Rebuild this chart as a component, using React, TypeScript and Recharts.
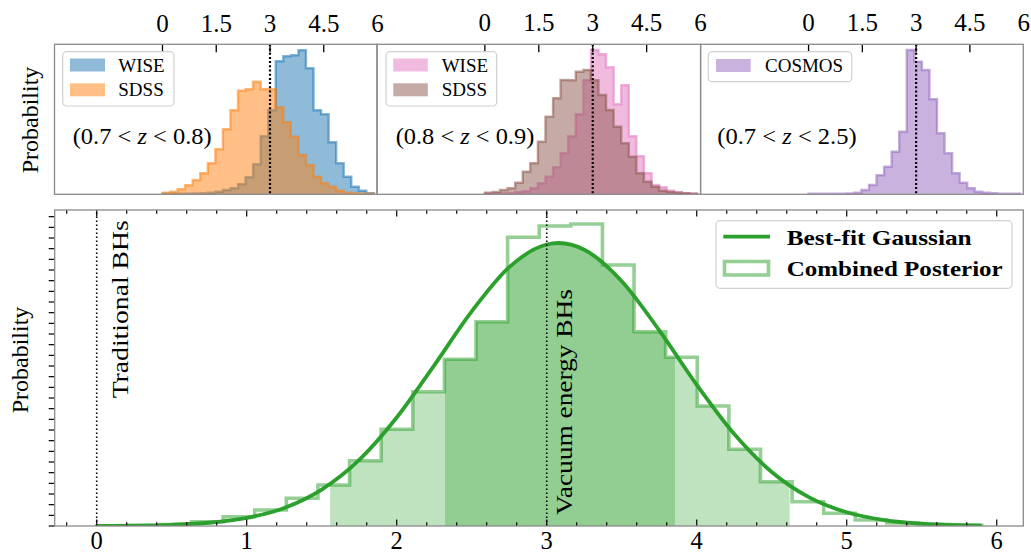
import React from 'react';
import { ComposedChart, Area, Line, XAxis, YAxis, ReferenceLine } from 'recharts';

const FONT = '"Liberation Serif", "Times New Roman", serif';

// ---------- data ----------
const BIN_EDGES = [0, 0.2107, 0.4214, 0.6321, 0.8429, 1.0536, 1.2643, 1.475, 1.6857, 1.8964, 2.1071, 2.3179, 2.5286, 2.7393, 2.95, 3.1607, 3.3714, 3.5821, 3.7929, 4.0036, 4.2143, 4.425, 4.6357, 4.8464, 5.0571, 5.2679, 5.4786, 5.6893, 5.9];

const WISE_07_08 = [0.005, 0.005, 0.005, 0.005, 0.008, 0.01, 0.016, 0.026, 0.043, 0.06, 0.10, 0.17, 0.30, 0.58, 0.84, 1.33, 1.38, 1.39, 1.44, 1.26, 0.84, 0.80, 0.52, 0.31, 0.176, 0.076, 0.035, 0.01];
const SDSS_07_08 = [0.016, 0.026, 0.05, 0.09, 0.143, 0.21, 0.31, 0.45, 0.65, 0.84, 1.036, 1.05, 1.126, 1.05, 1.05, 0.87, 0.72, 0.576, 0.393, 0.293, 0.176, 0.11, 0.076, 0.036, 0.016, 0.01, 0.007, 0.005];
const WISE_08_09 = [0.005, 0.005, 0.008, 0.01, 0.02, 0.03, 0.06, 0.11, 0.176, 0.27, 0.41, 0.58, 0.8, 1.14, 1.443, 1.40, 1.27, 0.90, 1.09, 0.58, 0.38, 0.21, 0.093, 0.07, 0.035, 0.02, 0.01, 0.005];
const SDSS_08_09 = [0.016, 0.023, 0.043, 0.06, 0.116, 0.226, 0.31, 0.526, 0.776, 0.96, 1.143, 1.14, 1.226, 1.243, 1.14, 0.993, 0.843, 0.676, 0.51, 0.376, 0.21, 0.126, 0.076, 0.036, 0.023, 0.016, 0.01, 0.005];
const COSMOS_07_25 = [0.005, 0.005, 0.005, 0.005, 0.005, 0.008, 0.016, 0.043, 0.093, 0.19, 0.276, 0.426, 0.626, 1.443, 1.326, 1.243, 0.95, 0.61, 0.41, 0.21, 0.116, 0.06, 0.026, 0.016, 0.01, 0.005, 0.005, 0.005];

const COMBINED_POSTERIOR = [0.0004, 0.0009, 0.0028, 0.0081, 0.0174, 0.0300, 0.0519, 0.0769, 0.1224, 0.1813, 0.2518, 0.3126, 0.3831, 0.5413, 0.5625, 0.5663, 0.4894, 0.3643, 0.3163, 0.2250, 0.1438, 0.0831, 0.0456, 0.0238, 0.0113, 0.0056, 0.0028, 0.0013];

const GAUSS_X = [0, 0.25, 0.5, 0.75, 1, 1.25, 1.5, 1.75, 2, 2.25, 2.5, 2.75, 3, 3.08, 3.25, 3.5, 3.75, 4, 4.25, 4.5, 4.75, 5, 5.25, 5.5, 5.75, 5.9];
const GAUSS_Y = [0.0002, 0.0007, 0.0022, 0.0061, 0.0152, 0.0338, 0.0683, 0.1239, 0.2034, 0.3013, 0.4024, 0.4853, 0.5278, 0.5306, 0.5181, 0.4590, 0.3669, 0.2648, 0.1723, 0.1013, 0.0536, 0.0257, 0.0111, 0.0043, 0.0015, 0.0008];

const SIGMA1_RANGE = [2.322, 3.855];
const SIGMA2_RANGE = [1.556, 4.619];

const TOP_TICKS = [0, 1.5, 3, 4.5, 6];
const MAIN_X_TICKS = [-0.2, 0, 0.2, 0.4, 0.6, 0.8, 1, 1.2, 1.4, 1.6, 1.8, 2, 2.2, 2.4, 2.6, 2.8, 3, 3.2, 3.4, 3.6, 3.8, 4, 4.2, 4.4, 4.6, 4.8, 5, 5.2, 5.4, 5.6, 5.8, 6];
const MAIN_Y_TICKS = [0, 0.02, 0.04, 0.06, 0.08, 0.1, 0.12, 0.14, 0.16, 0.18, 0.2, 0.22, 0.24, 0.26, 0.28, 0.3, 0.32, 0.34, 0.36, 0.38, 0.4, 0.42, 0.44, 0.46, 0.48, 0.5, 0.52, 0.54, 0.56, 0.58];
const MAIN_Y_MAX = 0.5925;
const TOP_Y_MAX = 1.5;

// ---------- helpers ----------
function histPoints(edges: number[], vals: number[]) {
  const pts: { x: number; y: number }[] = [{ x: edges[0], y: 0 }];
  vals.forEach((v, i) => pts.push({ x: edges[i], y: v }));
  pts.push({ x: edges[edges.length - 1], y: 0 });
  return pts;
}
function clipHist(edges: number[], vals: number[], lo: number, hi: number) {
  const pts: { x: number; y: number }[] = [];
  for (let i = 0; i < vals.length; i++) {
    const a = edges[i];
    const b = edges[i + 1];
    if (b <= lo || a >= hi) continue;
    pts.push({ x: Math.max(a, lo), y: vals[i] });
  }
  pts.push({ x: hi, y: 0 });
  return pts;
}
const gaussData = GAUSS_X.map((x, i) => ({ x, y: GAUSS_Y[i] }));

// ---------- ticks ----------
const TopPanelTick = (props: any) => {
  const { x, y, payload } = props;
  const v = payload.value;
  return (
    <g>
      {v < 6 && <line x1={x} x2={x} y1={y} y2={y + 8} stroke="#000" strokeWidth={1.3} />}
      <text x={x} y={y - 12.8} textAnchor="middle" fontFamily={FONT} fontSize={25} fill="#000">{String(v)}</text>
    </g>
  );
};
const isMajor = (v: number) => Math.abs(v - Math.round(v)) < 1e-6;
const MainBottomTick = (props: any) => {
  const { x, y, payload } = props;
  const v = payload.value;
  const maj = isMajor(v);
  return (
    <g>
      <line x1={x} x2={x} y1={y} y2={y - (maj ? 6.5 : 3.8)} stroke="#000" strokeWidth={1.2} />
      {maj && <text x={x} y={y + 23} textAnchor="middle" fontFamily={FONT} fontSize={24.5} fill="#000">{String(Math.round(v))}</text>}
    </g>
  );
};
const MainTopTick = (props: any) => {
  const { x, y, payload } = props;
  const maj = isMajor(payload.value);
  return <line x1={x} x2={x} y1={y} y2={y + (maj ? 6.5 : 3.8)} stroke="#000" strokeWidth={1.2} />;
};
const MainLeftTick = (props: any) => {
  const { x, y } = props;
  return <line x1={x - 6} x2={x} y1={y} y2={y} stroke="#000" strokeWidth={1.2} />;
};

// ---------- top panel ----------
type Series = { values: number[]; color: string };
function TopPanel({ left, right, series }: { left: number; right: number; series: Series[] }) {
  const pad = 16;
  const w = right - left + 2 * pad;
  return (
    <div style={{ position: 'absolute', left: left - pad, top: 0 }}>
      <ComposedChart width={w} height={200} margin={{ top: 0, right: pad, bottom: 5.7, left: pad }}>
        <XAxis type="number" dataKey="x" domain={[-3, 6]} allowDataOverflow orientation="top" height={44.3}
          ticks={TOP_TICKS} interval={0} tick={(p: any) => <TopPanelTick {...p} />} tickSize={0} tickMargin={0}
          axisLine={false} tickLine={false} />
        <YAxis type="number" domain={[0, TOP_Y_MAX]} allowDataOverflow hide />
        {series.map((s, i) => (
          <Area key={i} data={histPoints(BIN_EDGES, s.values)} dataKey="y" type="stepAfter"
            fill={s.color} fillOpacity={0.5} stroke={s.color} strokeOpacity={0.55} strokeWidth={2.4}
            isAnimationActive={false} dot={false} activeDot={false} />
        ))}
        <ReferenceLine x={3} stroke="#000" strokeDasharray="2 2.2" strokeWidth={2.2} />
      </ComposedChart>
    </div>
  );
}

// ---------- main ----------
export default function App() {
  const histData = histPoints(BIN_EDGES, COMBINED_POSTERIOR);
  const light = clipHist(BIN_EDGES, COMBINED_POSTERIOR, SIGMA2_RANGE[0], SIGMA2_RANGE[1]);
  const dark = clipHist(BIN_EDGES, COMBINED_POSTERIOR, SIGMA1_RANGE[0], SIGMA1_RANGE[1]);
  const green = '#2ca02c';
  const frame = '#8a8a8a';

  const P = { l: 54.7, r: 1023.3, t: 210, b: 526 };

  return (
    <div style={{ position: 'absolute', left: 0, top: 0, width: 1031, height: 553, background: '#fff', overflow: 'hidden' }}>
      <TopPanel left={54.5} right={377} series={[{ values: WISE_07_08, color: '#1f77b4' }, { values: SDSS_07_08, color: '#ff7f0e' }]} />
      <TopPanel left={377} right={700.6} series={[{ values: WISE_08_09, color: '#e377c2' }, { values: SDSS_08_09, color: '#8c564b' }]} />
      <TopPanel left={700.6} right={1023.3} series={[{ values: COSMOS_07_25, color: '#9467bd' }]} />

      <div style={{ position: 'absolute', left: 0, top: 200 }}>
        <ComposedChart width={1031} height={353} margin={{ top: 0, right: 1031 - P.r, bottom: 0, left: 0 }}>
          <XAxis type="number" dataKey="x" domain={[-0.28, 6.177]} allowDataOverflow orientation="bottom" height={27}
            ticks={MAIN_X_TICKS} interval={0} tick={(p: any) => <MainBottomTick {...p} />} tickSize={0} tickMargin={0}
            axisLine={false} tickLine={false} />
          <XAxis xAxisId="top" type="number" dataKey="x" domain={[-0.28, 6.177]} allowDataOverflow orientation="top" height={P.t - 200}
            ticks={MAIN_X_TICKS} interval={0} tick={(p: any) => <MainTopTick {...p} />} tickSize={0} tickMargin={0}
            axisLine={false} tickLine={false} />
          <YAxis type="number" domain={[0, MAIN_Y_MAX]} allowDataOverflow width={P.l} ticks={MAIN_Y_TICKS} interval={0}
            tick={(p: any) => <MainLeftTick {...p} />} tickSize={0} tickMargin={0} axisLine={false} tickLine={false} />
          <Area data={light} dataKey="y" type="stepAfter" fill={green} fillOpacity={0.3} stroke="none" isAnimationActive={false} dot={false} activeDot={false} />
          <Area data={dark} dataKey="y" type="stepAfter" fill={green} fillOpacity={0.3} stroke="none" isAnimationActive={false} dot={false} activeDot={false} />
          <Area data={gaussData} dataKey="y" type="monotone" baseValue={MAIN_Y_MAX} fill="#fff" fillOpacity={1} stroke="none" isAnimationActive={false} dot={false} activeDot={false} />
          <Line data={histData} dataKey="y" type="stepAfter" stroke={green} strokeOpacity={0.5} strokeWidth={3.6} dot={false} activeDot={false} isAnimationActive={false} />
          <Line data={gaussData} dataKey="y" type="monotone" stroke={green} strokeWidth={3.8} dot={false} activeDot={false} isAnimationActive={false} />
          <ReferenceLine x={0} stroke="#000" strokeDasharray="1.5 2.5" strokeWidth={1.6} />
          <ReferenceLine x={3} stroke="#000" strokeDasharray="1.5 2.5" strokeWidth={1.6} />
        </ComposedChart>
      </div>

      <svg width={1031} height={553} style={{ position: 'absolute', left: 0, top: 0 }} fontFamily={FONT}>
        {/* frames */}
        <rect x={54.5} y={44.3} width={322.5} height={150} fill="none" stroke={frame} strokeWidth={1.3} />
        <rect x={377} y={44.3} width={323.6} height={150} fill="none" stroke={frame} strokeWidth={1.3} />
        <rect x={700.6} y={44.3} width={322.7} height={150} fill="none" stroke={frame} strokeWidth={1.3} />
        <rect x={P.l} y={P.t} width={P.r - P.l} height={P.b - P.t} fill="none" stroke={frame} strokeWidth={1.3} />

        {/* y labels */}
        <text transform="translate(38,120) rotate(-90)" textAnchor="middle" fontSize={24} fill="#000">Probability</text>
        <text transform="translate(28,360) rotate(-90)" textAnchor="middle" fontSize={24} fill="#000">Probability</text>

        {/* panel 1 legend */}
        <rect x={62.7} y={51.7} width={111.3} height={54.3} rx={4} fill="#fff" fillOpacity={0.8} stroke="#d0d0d0" strokeWidth={1.2} />
        <rect x={70} y={58.5} width={35} height={13} fill="#1f77b4" fillOpacity={0.5} />
        <text x={118.3} y={71.5} fontSize={19} fill="#000">WISE</text>
        <rect x={70} y={83.3} width={35} height={13} fill="#ff7f0e" fillOpacity={0.5} />
        <text x={118.3} y={96.2} fontSize={19} fill="#000">SDSS</text>
        <text x={72.7} y={143.5} fontSize={24} fill="#000" textLength={139} lengthAdjust="spacingAndGlyphs">(0.7 &lt; <tspan fontStyle="italic">z</tspan> &lt; 0.8)</text>

        {/* panel 2 legend */}
        <rect x={386} y={51.7} width={110.7} height={54.3} rx={4} fill="#fff" fillOpacity={0.8} stroke="#d0d0d0" strokeWidth={1.2} />
        <rect x={393.3} y={58.5} width={34.5} height={13} fill="#e377c2" fillOpacity={0.5} />
        <text x={441.7} y={71.5} fontSize={19} fill="#000">WISE</text>
        <rect x={393.3} y={83.3} width={34.5} height={13} fill="#8c564b" fillOpacity={0.5} />
        <text x={441.7} y={96.2} fontSize={19} fill="#000">SDSS</text>
        <text x={395.7} y={143.5} fontSize={24} fill="#000" textLength={138.6} lengthAdjust="spacingAndGlyphs">(0.8 &lt; <tspan fontStyle="italic">z</tspan> &lt; 0.9)</text>

        {/* panel 3 legend */}
        <rect x={708.3} y={51.7} width={143.4} height={30} rx={4} fill="#fff" fillOpacity={0.8} stroke="#d0d0d0" strokeWidth={1.2} />
        <rect x={716} y={59} width={34.7} height={13} fill="#9467bd" fillOpacity={0.5} />
        <text x={765} y={71.5} fontSize={19} fill="#000">COSMOS</text>
        <text x={717.3} y={143.5} fontSize={24} fill="#000" textLength={139.4} lengthAdjust="spacingAndGlyphs">(0.7 &lt; <tspan fontStyle="italic">z</tspan> &lt; 2.5)</text>

        {/* annotations */}
        <text transform="translate(127.5,398.3) rotate(-90)" fontSize={24} fill="#000" textLength={178} lengthAdjust="spacingAndGlyphs">Traditional BHs</text>
        <text transform="translate(572.3,515) rotate(-90)" fontSize={24} fill="#000" textLength={226} lengthAdjust="spacingAndGlyphs">Vacuum energy BHs</text>

        {/* main legend */}
        <rect x={716} y={220.7} width={296} height={67.6} rx={4} fill="#fff" fillOpacity={0.8} stroke="#d0d0d0" strokeWidth={1.2} />
        <line x1={723.3} x2={770} y1={236.7} y2={236.7} stroke="#2ca02c" strokeWidth={3.8} />
        <text x={786.7} y={245} fontSize={22} fontWeight="bold" fill="#000" textLength={185} lengthAdjust="spacingAndGlyphs">Best-fit Gaussian</text>
        <rect x={724.5} y={261.5} width={44} height={13.5} fill="none" stroke="#2ca02c" strokeOpacity={0.5} strokeWidth={3.6} />
        <text x={786.7} y={275.5} fontSize={22} fontWeight="bold" fill="#000" textLength={216} lengthAdjust="spacingAndGlyphs">Combined Posterior</text>
      </svg>
    </div>
  );
}
